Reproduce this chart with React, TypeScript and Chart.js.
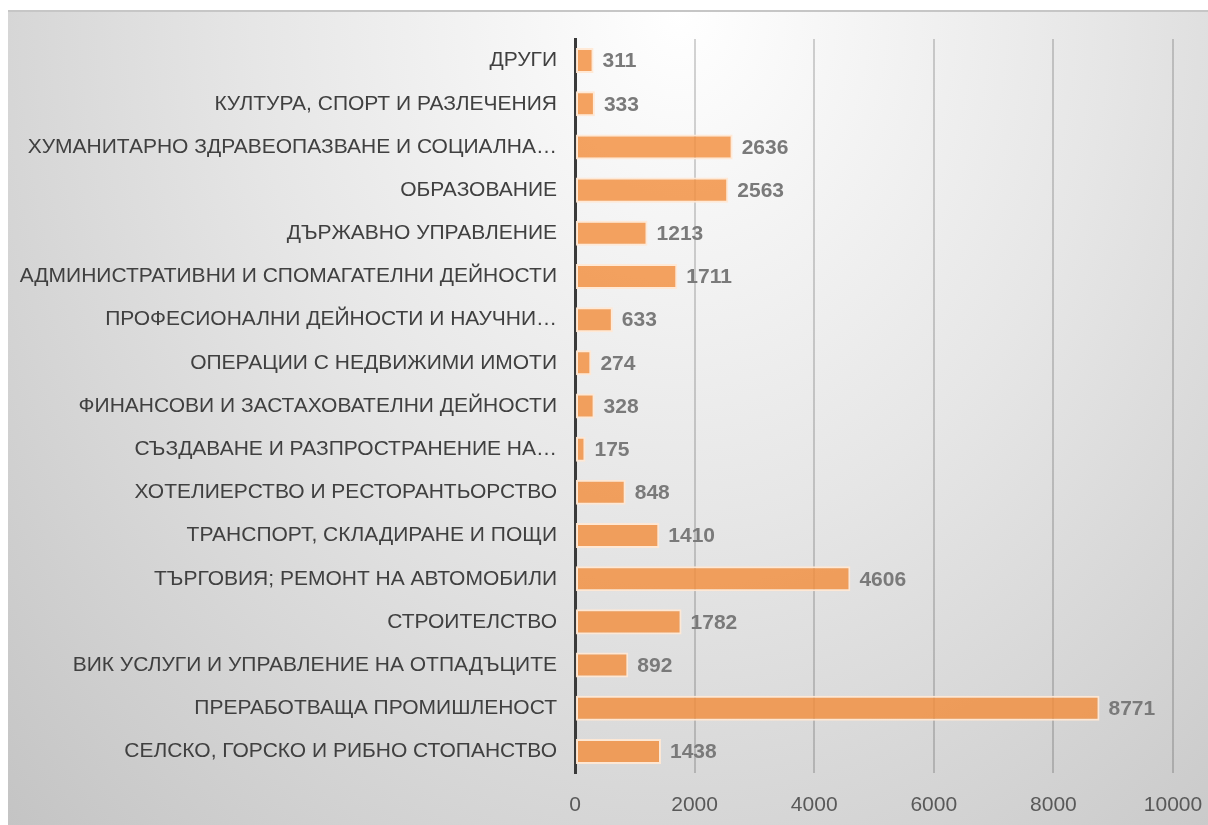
import React, { useEffect, useRef } from "react";
import { Chart, registerables } from "chart.js";

Chart.register(...registerables);

const categories: string[] = [
  "ДРУГИ",
  "КУЛТУРА, СПОРТ И РАЗЛЕЧЕНИЯ",
  "ХУМАНИТАРНО ЗДРАВЕОПАЗВАНЕ И СОЦИАЛНА…",
  "ОБРАЗОВАНИЕ",
  "ДЪРЖАВНО УПРАВЛЕНИЕ",
  "АДМИНИСТРАТИВНИ И СПОМАГАТЕЛНИ ДЕЙНОСТИ",
  "ПРОФЕСИОНАЛНИ ДЕЙНОСТИ И НАУЧНИ…",
  "ОПЕРАЦИИ С НЕДВИЖИМИ ИМОТИ",
  "ФИНАНСОВИ И ЗАСТАХОВАТЕЛНИ ДЕЙНОСТИ",
  "СЪЗДАВАНЕ И РАЗПРОСТРАНЕНИЕ НА…",
  "ХОТЕЛИЕРСТВО И РЕСТОРАНТЬОРСТВО",
  "ТРАНСПОРТ, СКЛАДИРАНЕ И ПОЩИ",
  "ТЪРГОВИЯ; РЕМОНТ НА АВТОМОБИЛИ",
  "СТРОИТЕЛСТВО",
  "ВИК УСЛУГИ И УПРАВЛЕНИЕ НА ОТПАДЪЦИТЕ",
  "ПРЕРАБОТВАЩА ПРОМИШЛЕНОСТ",
  "СЕЛСКО, ГОРСКО И РИБНО СТОПАНСТВО",
];

const values: number[] = [
  311, 333, 2636, 2563, 1213, 1711, 633, 274, 328, 175, 848, 1410, 4606, 1782,
  892, 8771, 1438,
];

const xMin = 0;
const xMax = 10000;
const xStep = 2000;

const FONT = "'Liberation Sans', Arial, sans-serif";

const valueLabels = {
  id: "valueLabels",
  afterDatasetsDraw(chart: any) {
    const ctx = chart.ctx;
    const meta = chart.getDatasetMeta(0);
    ctx.save();
    ctx.font = `bold 21px ${FONT}`;
    ctx.fillStyle = "#7a7a7a";
    ctx.textAlign = "left";
    ctx.textBaseline = "middle";
    meta.data.forEach((el: any, i: number) => {
      ctx.fillText(String(values[i]), el.x + 9, el.y + 1);
    });
    ctx.restore();
  },
};

export default function App() {
  const ref = useRef<HTMLCanvasElement | null>(null);

  useEffect(() => {
    document.body.style.overflow = "hidden";
    if (!ref.current) return;
    const chart = new Chart(ref.current, {
      type: "bar",
      data: {
        labels: categories,
        datasets: [
          {
            data: values,
            backgroundColor: "rgba(242,140,58,0.8)",
            borderColor: "rgba(255,232,212,0.95)",
            borderWidth: 2,
            borderSkipped: false,
            barPercentage: 0.58,
            categoryPercentage: 1,
          },
        ],
      },
      options: {
        indexAxis: "y",
        animation: false,
        responsive: false,
        maintainAspectRatio: false,
        layout: { padding: { top: 27, right: 0, bottom: 0, left: 0 } },
        plugins: {
          legend: { display: false },
          tooltip: { enabled: false },
        },
        scales: {
          x: {
            min: xMin,
            max: xMax,
            ticks: {
              stepSize: xStep,
              color: "#595959",
              font: { family: FONT, size: 21 },
              padding: 20,
              maxRotation: 0,
              callback: (v: any) => String(v),
            },
            grid: {
              color: "rgba(0,0,0,0.17)",
              lineWidth: 2,
              drawTicks: false,
            },
            border: { display: false },
            afterFit(scale: any) {
              scale.height = 52;
              scale.paddingRight = 35;
              scale.paddingLeft = 0;
            },
          },
          y: {
            ticks: {
              color: "#404040",
              font: { family: FONT, size: 21 },
              padding: 18,
              autoSkip: false,
            },
            grid: { display: false, drawTicks: false },
            border: { display: true, color: "#3a3a3a", width: 3 },
            afterFit(scale: any) {
              scale.width = 567;
              scale.paddingTop = 0;
              scale.paddingBottom = 0;
            },
          },
        },
      },
      plugins: [valueLabels],
    });
    return () => chart.destroy();
  }, []);

  return (
    <div
      style={{
        position: "absolute",
        left: 8,
        top: 10,
        width: 1200,
        height: 815,
        boxSizing: "border-box",
        borderTop: "2px solid #c6c6c6",
        background:
          "radial-gradient(ellipse farthest-corner at 56% 0%, #ffffff 0%, #e6e6e6 45%, #c4c4c4 100%)",
      }}
    >
      <canvas ref={ref} width={1200} height={813} style={{ display: "block" }} />
    </div>
  );
}
